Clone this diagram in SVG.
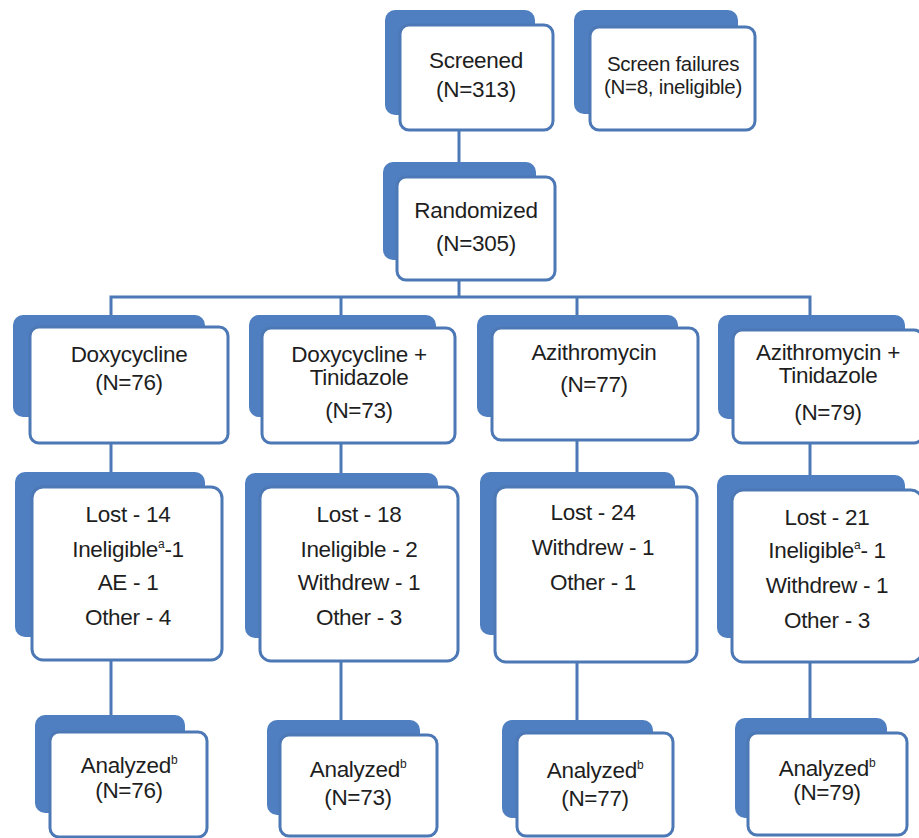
<svg xmlns="http://www.w3.org/2000/svg" width="919" height="838" viewBox="0 0 919 838">
<style>
.back{fill:#4f7fc0;}
.front{fill:#ffffff;stroke:#4d78b6;stroke-width:3;}
.conn{stroke:#4d78b6;stroke-width:3;fill:none;}
text{font-family:"Liberation Sans",Arial,sans-serif;font-size:22.5px;fill:#1e1e1e;text-anchor:middle;letter-spacing:-0.3px;}
.sup{font-size:12px;}
</style>
<rect width="919" height="838" fill="#ffffff"/>
<g id="connectors">
<line class="conn" x1="459" y1="130" x2="459" y2="177"/>
<line class="conn" x1="459" y1="280" x2="459" y2="297"/>
<polyline class="conn" points="111,315 111,297 810,297 810,315"/>
<line class="conn" x1="341" y1="297" x2="341" y2="315"/>
<line class="conn" x1="577" y1="297" x2="577" y2="315"/>
<line class="conn" x1="111" y1="443" x2="111" y2="472"/>
<line class="conn" x1="341" y1="443" x2="341" y2="473"/>
<line class="conn" x1="577" y1="440" x2="577" y2="472"/>
<line class="conn" x1="810" y1="443" x2="810" y2="475"/>
<line class="conn" x1="111" y1="660" x2="111" y2="715"/>
<line class="conn" x1="341" y1="661" x2="341" y2="720"/>
<line class="conn" x1="577" y1="662" x2="577" y2="720"/>
<line class="conn" x1="810" y1="662" x2="810" y2="718"/>
</g>
<g id="screened">
<rect class="back" x="385" y="10" width="150" height="105" rx="10"/>
<rect class="front" x="400" y="25" width="153" height="105" rx="9"/>
<text x="476" y="68">Screened</text>
<text x="476" y="97">(N=313)</text>
</g>
<g id="screen-failures">
<rect class="back" x="574" y="10" width="164" height="104" rx="10"/>
<rect class="front" x="590" y="27" width="165" height="103" rx="9"/>
<text x="673" y="71" style="font-size:20.5px">Screen failures</text>
<text x="673" y="94" style="font-size:20.5px">(N=8, ineligible)</text>
</g>
<g id="randomized">
<rect class="back" x="383" y="162" width="153" height="98" rx="10"/>
<rect class="front" x="397" y="177" width="158" height="103" rx="9"/>
<text x="476" y="218">Randomized</text>
<text x="476" y="251">(N=305)</text>
</g>
<g id="doxy">
<rect class="back" x="13" y="315" width="192" height="102" rx="10"/>
<rect class="front" x="30" y="327" width="198" height="116" rx="9"/>
<text x="129" y="362">Doxycycline</text>
<text x="129" y="390">(N=76)</text>
</g>
<g id="doxy-tini">
<rect class="back" x="249" y="315" width="187" height="102" rx="10"/>
<rect class="front" x="262" y="328" width="193" height="115" rx="9"/>
<text x="359" y="362">Doxycycline +</text>
<text x="359" y="385">Tinidazole</text>
<text x="359" y="418">(N=73)</text>
</g>
<g id="azithro">
<rect class="back" x="477" y="315" width="201" height="102" rx="10"/>
<rect class="front" x="492" y="328" width="206" height="112" rx="9"/>
<text x="594" y="360">Azithromycin</text>
<text x="594" y="392">(N=77)</text>
</g>
<g id="azithro-tini">
<rect class="back" x="718" y="315" width="187" height="104" rx="10"/>
<rect class="front" x="733" y="330" width="190" height="113" rx="9"/>
<text x="828" y="360">Azithromycin +</text>
<text x="828" y="383">Tinidazole</text>
<text x="828" y="420">(N=79)</text>
</g>
<g id="doxy-lost">
<rect class="back" x="15" y="472" width="190" height="165" rx="10"/>
<rect class="front" x="32" y="487" width="190" height="173" rx="11"/>
<text x="128" y="522">Lost - 14</text>
<text x="128" y="557">Ineligible<tspan class="sup" dy="-9">a</tspan><tspan dy="9">-1</tspan></text>
<text x="128" y="590">AE - 1</text>
<text x="128" y="625">Other - 4</text>
</g>
<g id="doxy-tini-lost">
<rect class="back" x="245" y="473" width="193" height="165" rx="10"/>
<rect class="front" x="260" y="487" width="198" height="174" rx="11"/>
<text x="359" y="522">Lost - 18</text>
<text x="359" y="557">Ineligible - 2</text>
<text x="359" y="590">Withdrew - 1</text>
<text x="359" y="625">Other - 3</text>
</g>
<g id="azithro-lost">
<rect class="back" x="480" y="472" width="195" height="163" rx="10"/>
<rect class="front" x="495" y="487" width="202" height="175" rx="11"/>
<text x="593" y="520">Lost - 24</text>
<text x="593" y="555">Withdrew - 1</text>
<text x="593" y="590">Other - 1</text>
</g>
<g id="azithro-tini-lost">
<rect class="back" x="717" y="475" width="188" height="163" rx="10"/>
<rect class="front" x="732" y="490" width="190" height="172" rx="11"/>
<text x="827" y="525">Lost - 21</text>
<text x="827" y="558">Ineligible<tspan class="sup" dy="-9">a</tspan><tspan dy="9">- 1</tspan></text>
<text x="827" y="593">Withdrew - 1</text>
<text x="827" y="628">Other - 3</text>
</g>
<g id="doxy-analyzed">
<rect class="back" x="35" y="715" width="150" height="98" rx="10"/>
<rect class="front" x="50" y="732" width="157" height="105" rx="9"/>
<text x="129" y="773">Analyzed<tspan class="sup" dy="-9">b</tspan></text>
<text x="129" y="798">(N=76)</text>
</g>
<g id="doxy-tini-analyzed">
<rect class="back" x="267" y="720" width="153" height="95" rx="10"/>
<rect class="front" x="280" y="735" width="157" height="101" rx="9"/>
<text x="358" y="777">Analyzed<tspan class="sup" dy="-9">b</tspan></text>
<text x="358" y="805">(N=73)</text>
</g>
<g id="azithro-analyzed">
<rect class="back" x="502" y="720" width="151" height="98" rx="10"/>
<rect class="front" x="517" y="733" width="156" height="103" rx="9"/>
<text x="595" y="778">Analyzed<tspan class="sup" dy="-9">b</tspan></text>
<text x="595" y="806">(N=77)</text>
</g>
<g id="azithro-tini-analyzed">
<rect class="back" x="735" y="718" width="152" height="100" rx="10"/>
<rect class="front" x="748" y="733" width="159" height="102" rx="9"/>
<text x="827" y="776">Analyzed<tspan class="sup" dy="-9">b</tspan></text>
<text x="827" y="800">(N=79)</text>
</g>
</svg>
